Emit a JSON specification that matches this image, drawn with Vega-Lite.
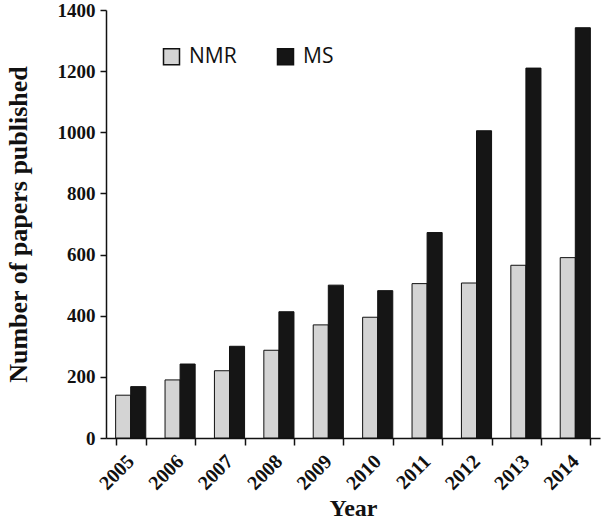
{
  "$schema": "https://vega.github.io/schema/vega-lite/v6.json",
  "autosize": "none",
  "width": 494,
  "height": 428,
  "padding": {"left": 106, "top": 10, "right": 2, "bottom": 87},
  "background": "white",
  "config": {"view": {"stroke": null}},
  "data": {
    "values": [
      {"year": "2005", "type": "NMR", "papers": 140},
      {"year": "2005", "type": "MS", "papers": 168},
      {"year": "2006", "type": "NMR", "papers": 190},
      {"year": "2006", "type": "MS", "papers": 242},
      {"year": "2007", "type": "NMR", "papers": 220},
      {"year": "2007", "type": "MS", "papers": 300},
      {"year": "2008", "type": "NMR", "papers": 287},
      {"year": "2008", "type": "MS", "papers": 413},
      {"year": "2009", "type": "NMR", "papers": 370},
      {"year": "2009", "type": "MS", "papers": 500},
      {"year": "2010", "type": "NMR", "papers": 395},
      {"year": "2010", "type": "MS", "papers": 482},
      {"year": "2011", "type": "NMR", "papers": 505},
      {"year": "2011", "type": "MS", "papers": 672},
      {"year": "2012", "type": "NMR", "papers": 507},
      {"year": "2012", "type": "MS", "papers": 1005},
      {"year": "2013", "type": "NMR", "papers": 565},
      {"year": "2013", "type": "MS", "papers": 1210},
      {"year": "2014", "type": "NMR", "papers": 590},
      {"year": "2014", "type": "MS", "papers": 1342}
    ]
  },
  "mark": {"type": "bar", "stroke": "#111111", "strokeWidth": 1},
  "encoding": {
    "x": {
      "field": "year",
      "type": "nominal",
      "scale": {"paddingInner": 0.39, "paddingOuter": 0.195},
      "axis": {
        "title": "Year",
        "titleFont": "Liberation Serif, Times New Roman, serif",
        "titleFontSize": 24,
        "titleFontWeight": "bold",
        "titleColor": "#111111",
        "titlePadding": 3,
        "labelFont": "Liberation Serif, Times New Roman, serif",
        "labelFontSize": 20,
        "labelFontWeight": "bold",
        "labelColor": "#111111",
        "labelAngle": -45,
        "labelAlign": "right",
        "labelBaseline": "middle",
        "labelPadding": 13,
        "tickBand": "extent",
        "tickSize": 7,
        "tickWidth": 1.5,
        "tickColor": "#111111",
        "domainColor": "#111111",
        "domainWidth": 1.5,
        "grid": false
      }
    },
    "xOffset": {"field": "type", "type": "nominal", "sort": ["NMR", "MS"], "scale": {"paddingInner": 0, "paddingOuter": 0}},
    "y": {
      "field": "papers",
      "type": "quantitative",
      "scale": {"domain": [0, 1400], "nice": false},
      "axis": {
        "title": "Number of papers published",
        "titleFont": "Liberation Serif, Times New Roman, serif",
        "titleFontSize": 26,
        "titleFontWeight": "bold",
        "titleColor": "#111111",
        "titlePadding": 26,
        "labelFont": "Liberation Serif, Times New Roman, serif",
        "labelFontSize": 19,
        "labelFontWeight": "bold",
        "labelColor": "#111111",
        "labelPadding": 5,
        "format": "d",
        "values": [0, 200, 400, 600, 800, 1000, 1200, 1400],
        "tickSize": 6,
        "tickWidth": 1.5,
        "tickColor": "#111111",
        "domainColor": "#111111",
        "domainWidth": 1.5,
        "grid": false
      }
    },
    "fill": {
      "field": "type",
      "type": "nominal",
      "sort": ["NMR", "MS"],
      "scale": {"domain": ["NMR", "MS"], "range": ["#d4d4d4", "#151515"]},
      "legend": {
        "title": null,
        "orient": "none",
        "legendX": 55,
        "legendY": 36,
        "direction": "horizontal",
        "symbolType": "square",
        "symbolSize": 256,
        "symbolStrokeColor": "#111111",
        "symbolStrokeWidth": 1.5,
        "labelFont": "Open Sans",
        "labelFontSize": 21,
        "labelColor": "#111111",
        "labelOffset": 7,
        "columnPadding": 37
      }
    }
  }
}
